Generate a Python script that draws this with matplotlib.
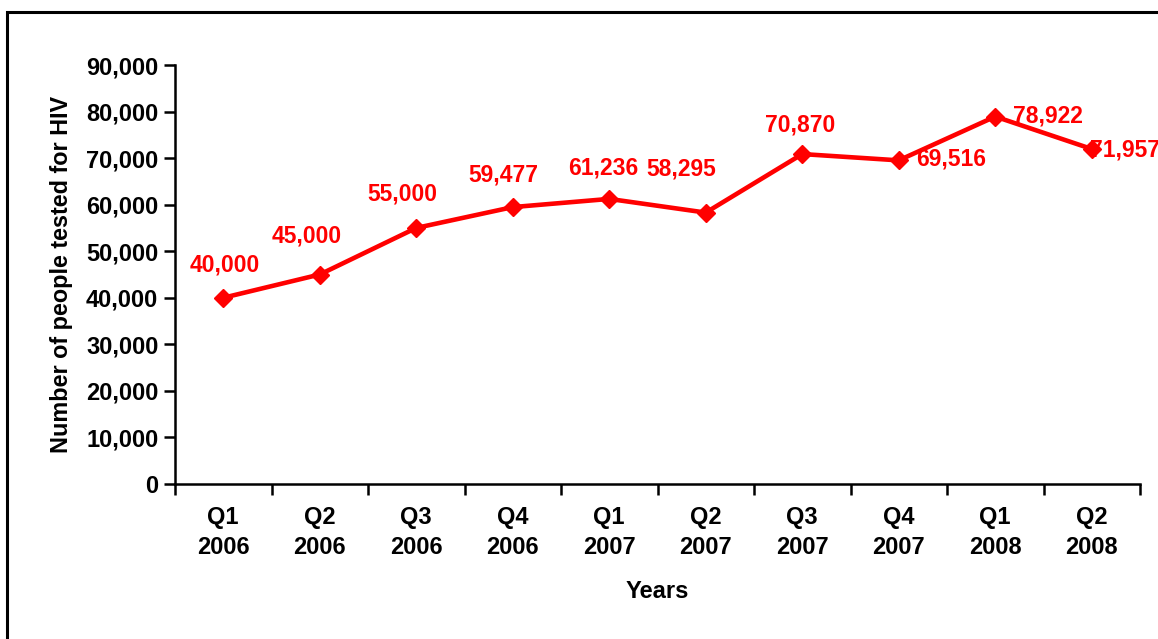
import matplotlib
matplotlib.use("Agg")
import matplotlib.pyplot as plt
from matplotlib.patches import Rectangle
from matplotlib.ticker import FuncFormatter, FixedLocator

quarters = ["Q1\n2006", "Q2\n2006", "Q3\n2006", "Q4\n2006", "Q1\n2007",
            "Q2\n2007", "Q3\n2007", "Q4\n2007", "Q1\n2008", "Q2\n2008"]
tested = [40000, 45000, 55000, 59477, 61236, 58295, 70870, 69516, 78922, 71957]
# label offsets in pixels (dx, dy) relative to each point
label_offsets = [(1, 33), (-13, 38), (-14, 34), (-9, 32), (-6, 31),
                 (-25, 44), (-2, 29), (52, 1), (53, 1), (33, -1)]

plt.rcParams['font.family'] = ['Liberation Sans', 'DejaVu Sans']
plt.rcParams['font.weight'] = 'bold'

W, H = 1158, 639
fig = plt.figure(figsize=(W / 100, H / 100), dpi=100)
fig.patch.set_facecolor('white')

# outer border (left and top visible)
fig.patches.append(Rectangle((7 / W, -0.1), 1.2, 1.1 - 12 / H, transform=fig.transFigure,
                             fill=False, edgecolor='black', linewidth=2.2))

ax = fig.add_axes([175 / W, 1 - 484 / H, (1140 - 175) / W, (484 - 65) / H])
x = list(range(len(tested)))
ax.plot(x, tested, color='#ff0000', linewidth=3.3, marker='D', markersize=9,
        markeredgecolor='#ff0000', markerfacecolor='#ff0000', clip_on=False, zorder=3)

for xi, yi, (dx, dy) in zip(x, tested, label_offsets):
    ax.annotate(f"{yi:,}", (xi, yi), xytext=(dx, dy), textcoords='offset pixels',
                ha='center', va='center', color='#ff0000', fontsize=16.5,
                fontweight='bold', zorder=2, annotation_clip=False)

ax.set_xlim(-0.5, len(tested) - 0.5)
ax.set_ylim(0, 90000)
ax.yaxis.set_major_locator(FixedLocator(list(range(0, 90001, 10000))))
ax.yaxis.set_major_formatter(FuncFormatter(lambda v, p: f"{int(v):,}"))

ax.set_xticks(x)
ax.set_xticklabels(quarters, fontsize=17, fontweight='bold', linespacing=1.4)
ax.set_xticks([i - 0.5 for i in range(len(tested) + 1)], minor=True)
ax.tick_params(axis='x', which='major', length=0, pad=16)
ax.tick_params(axis='x', which='minor', length=8, width=1.8, direction='out')
ax.tick_params(axis='y', which='major', length=8, width=1.8, direction='out',
               labelsize=17, pad=4)
for lbl in ax.get_yticklabels():
    lbl.set_fontweight('bold')

for s in ['top', 'right']:
    ax.spines[s].set_visible(False)
for s in ['left', 'bottom']:
    ax.spines[s].set_linewidth(1.8)

ax.set_xlabel("Years", fontsize=17, fontweight='bold')
ax.xaxis.label.set_va('center')
ax.xaxis.set_label_coords(0.5, (484 - 592) / 419)
ax.set_ylabel("Number of people tested for HIV", fontsize=16.8, fontweight='bold')
ax.yaxis.label.set_va('center')
ax.yaxis.set_label_coords((62 - 175) / 965, 0.5)

fig.savefig("out.png", dpi=100)
